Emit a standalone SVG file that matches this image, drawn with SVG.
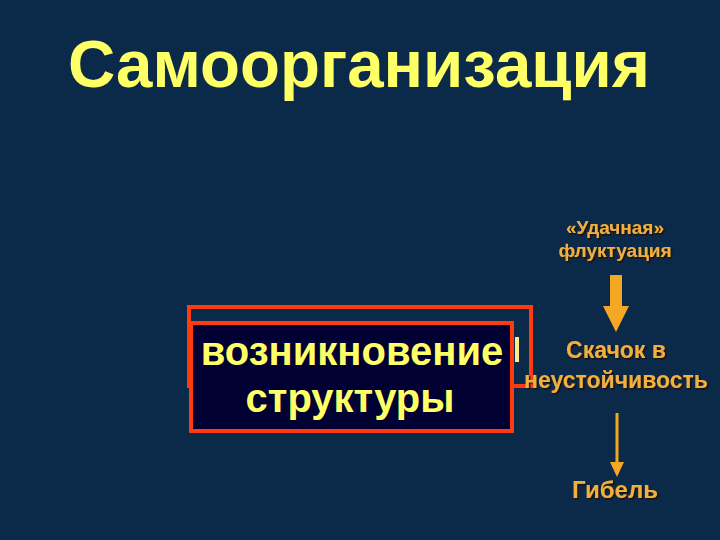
<svg xmlns="http://www.w3.org/2000/svg" width="720" height="540" viewBox="0 0 720 540">
<style>
.t{font-family:"Liberation Sans",Arial,sans-serif;font-weight:bold;text-anchor:middle}
.y{fill:#ffff66}
.o{fill:#f0b040;filter:url(#sh)}
.ar{fill:#f5a623}
</style>
<defs>
<filter id="sh" x="-10%" y="-20%" width="120%" height="150%">
<feDropShadow dx="1.5" dy="1.5" stdDeviation="0.6" flood-color="#1a1000" flood-opacity="0.9"/>
</filter>
</defs>
<rect width="720" height="540" fill="#0b2a4a"/>
<text class="t y" x="359" y="87" font-size="66" textLength="582" lengthAdjust="spacingAndGlyphs">Самоорганизация</text>
<g id="structure">
<rect x="189" y="307" width="342" height="79" fill="none" stroke="#ff3a10" stroke-width="4"/>
<rect x="515" y="337" width="4" height="25" fill="#ffee88"/>
<rect x="191" y="323" width="321" height="108" fill="#000033" stroke="#ff3a10" stroke-width="4"/>
<text class="t y" x="352" y="365" font-size="40">возникновение</text>
<text class="t y" x="350" y="412" font-size="40">структуры</text>
</g>
<g id="fluct">
<text class="t o" x="615" y="234" font-size="19">«Удачная»</text>
<text class="t o" x="615" y="257" font-size="19">флуктуация</text>
</g>
<g id="jump">
<text class="t o" x="616" y="358" font-size="23">Скачок в</text>
<text class="t o" x="616" y="388" font-size="23">неустойчивость</text>
</g>
<g id="death">
<text class="t o" x="615" y="498" font-size="24">Гибель</text>
</g>
<g id="connectors">
<path class="ar" d="M610,275 H622 V306 H629 L616,332 L603,306 H610 Z"/>
<line x1="617" y1="413" x2="617" y2="463" stroke="#f5a623" stroke-width="3"/>
<path class="ar" d="M610,462 L624,462 L617,477 Z"/>
</g>
</svg>
